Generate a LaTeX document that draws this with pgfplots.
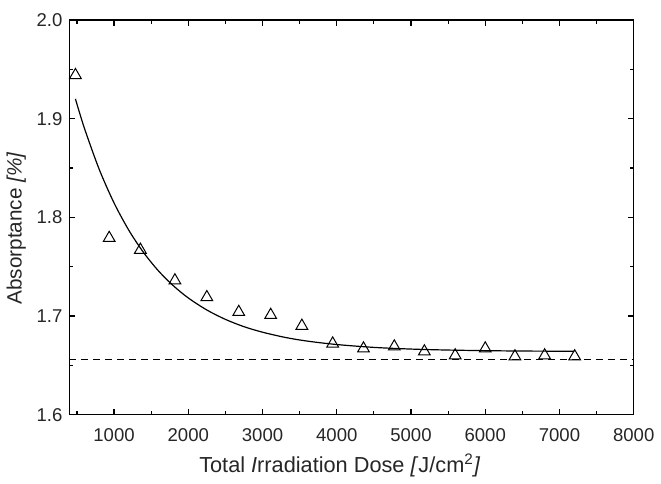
\documentclass[border=0pt]{standalone}
\usepackage{fontspec}
\setmainfont{Liberation Sans}
\usepackage{pgfplots}
\pgfplotsset{compat=1.18}
\begin{document}
\begin{tikzpicture}
\begin{axis}[
  scale only axis,
  width=283pt, height=198pt,
  xmin=400, xmax=8000,
  ymin=1.6, ymax=2.0,
  xtick={1000,2000,...,8000},
  minor xtick={500,1500,...,7500},
  ytick={1.6,1.7,1.8,1.9,2.0},
  minor ytick={1.65,1.75,1.85,1.95},
  yticklabel style={/pgf/number format/.cd,fixed,fixed zerofill,precision=1},
  xticklabel style={yshift=-3.5pt,/pgf/number format/.cd,set thousands separator={}},
  scaled x ticks=false,
  /pgf/number format/assume math mode=true,
  tick label style={font=\fontsize{9.3}{11}\selectfont, color=black!85},
  tick align=inside,
  major tick length=3pt,
  minor tick length=2pt,
  axis line style={line width=0.75pt},
  every tick/.style={line width=0.6pt, black},
  xlabel={Total \textit{I}rradiation Dose \textit{[}J/cm\textsuperscript{2}\textit{]}},
  ylabel={Absorptance \textit{[\%]}},
  xlabel style={font=\fontsize{10.9}{12}\selectfont, color=black!85, at={(ticklabel cs:0.479)}, yshift=1pt},
  ylabel style={font=\fontsize{10.4}{12}\selectfont, color=black!85, at={(ticklabel cs:0.472)}, yshift=-1.5pt},
]
\addplot[black, line width=0.5pt, dash pattern=on 3.5pt off 2.5pt] coordinates {(400,1.656) (8000,1.656)};
\addplot[black, line width=0.6pt, smooth] coordinates {
(480,1.920) (600,1.8905) (800,1.8487) (1000,1.8146) (1200,1.7868) (1400,1.7641)
(1600,1.7456) (1800,1.7306) (2000,1.7183) (2250,1.7061) (2500,1.6966) (2750,1.6892)
(3000,1.6836) (3300,1.6784) (3600,1.6746) (4000,1.6711) (4500,1.6682) (5000,1.6665)
(5500,1.6655) (6000,1.6649) (6500,1.6645) (7200,1.6643)};
\addplot[only marks, mark=triangle, mark size=3.4pt, mark options={line width=0.5pt, black}] coordinates {
(480,1.944) (935,1.779) (1355,1.767) (1820,1.736) (2250,1.719) (2680,1.704)
(3110,1.701) (3530,1.690) (3945,1.672) (4360,1.667) (4775,1.669) (5180,1.664)
(5595,1.660) (6000,1.667) (6400,1.659) (6800,1.660) (7205,1.659)};
\end{axis}
\path ([yshift=10pt]current axis.north);
\end{tikzpicture}
\end{document}
